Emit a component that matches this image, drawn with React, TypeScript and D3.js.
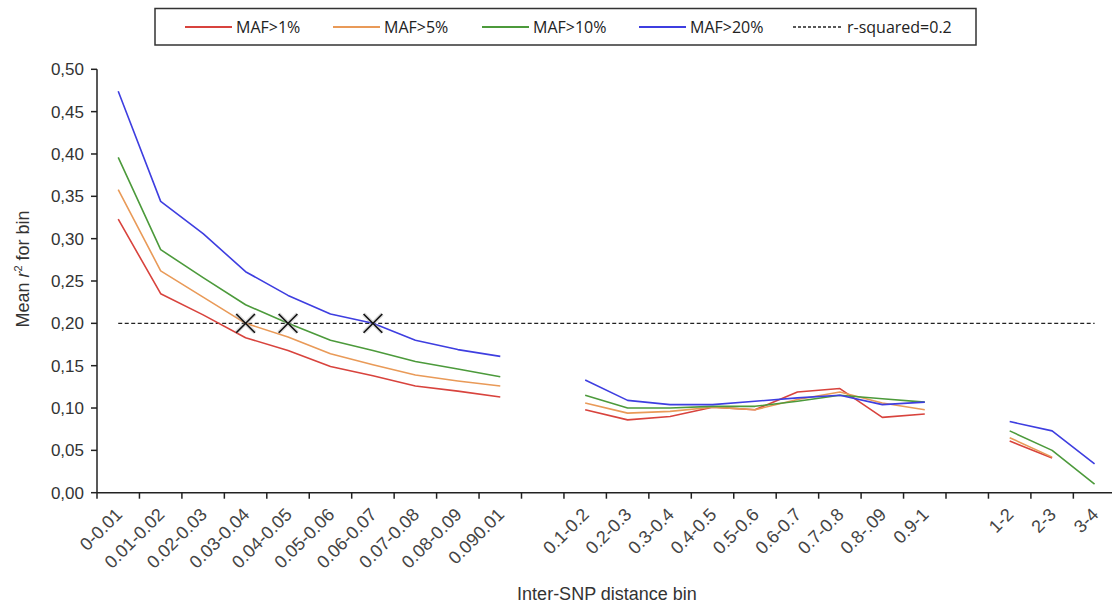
import React from "react";
import * as d3 from "d3";

// distance bins, in three groups with a blank slot between the groups
const binsShort = ["0-0.01", "0.01-0.02", "0.02-0.03", "0.03-0.04", "0.04-0.05", "0.05-0.06", "0.06-0.07", "0.07-0.08", "0.08-0.09", "0.090.01"];
const binsMid = ["0.1-0.2", "0.2-0.3", "0.3-0.4", "0.4-0.5", "0.5-0.6", "0.6-0.7", "0.7-0.8", "0.8-.09", "0.9-1"];
const binsLong = ["1-2", "2-3", "3-4"];

// mean r^2 per bin (short, mid, long)
const maf1 = [0.323, 0.235, 0.21, 0.183, 0.168, 0.149, 0.138, 0.126, 0.12, 0.113, 0.098, 0.086, 0.09, 0.101, 0.098, 0.119, 0.123, 0.089, 0.093, 0.061, 0.041, null];
const maf5 = [0.358, 0.262, 0.231, 0.2, 0.184, 0.164, 0.151, 0.139, 0.132, 0.126, 0.106, 0.094, 0.096, 0.101, 0.098, 0.11, 0.119, 0.106, 0.098, 0.065, 0.042, null];
const maf10 = [0.396, 0.287, 0.254, 0.222, 0.2, 0.18, 0.168, 0.155, 0.146, 0.137, 0.115, 0.1, 0.1, 0.102, 0.102, 0.108, 0.115, 0.111, 0.107, 0.073, 0.05, 0.01];
const maf20 = [0.474, 0.344, 0.306, 0.261, 0.233, 0.211, 0.2, 0.18, 0.169, 0.161, 0.133, 0.109, 0.104, 0.104, 0.108, 0.112, 0.115, 0.104, 0.107, 0.084, 0.073, 0.034];

const seriesNames = ["MAF>1%", "MAF>5%", "MAF>10%", "MAF>20%"];
const seriesColors = ["#d8433d", "#e99a58", "#4c9a3b", "#3e3ee0"];
const threshold = 0.2;
const thresholdName = "r-squared=0.2";
const crossBins = ["0.03-0.04", "0.04-0.05", "0.06-0.07"];
const yTicks = [0, 0.05, 0.1, 0.15, 0.2, 0.25, 0.3, 0.35, 0.4, 0.45, 0.5];

const GAP1 = "gap1";
const GAP2 = "gap2";
const allBins = [...binsShort, GAP1, ...binsMid, GAP2, ...binsLong];
const dataBins = [...binsShort, ...binsMid, ...binsLong];

export default function App() {
  const ref = React.useRef<SVGSVGElement>(null);

  React.useEffect(() => {
    const W = 1112, H = 606;
    const svg = d3.select(ref.current);
    svg.selectAll("*").remove();
    svg.attr("width", W).attr("height", H);

    const left = 97, top = 69.3, bottom = 492.7;
    const step = 42.45;
    const x = d3.scaleBand().domain(allBins).range([left, left + step * allBins.length]).padding(0);
    const y = d3.scaleLinear().domain([0, 0.5]).range([bottom, top]);
    const cx = (b: string) => (x(b) as number) + x.bandwidth() / 2;
    const font = "'Liberation Sans', Arial, sans-serif";

    // y axis
    svg.append("line").attr("x1", left).attr("x2", left).attr("y1", top).attr("y2", bottom)
      .attr("stroke", "#222").attr("stroke-width", 1.5);
    const yt = svg.append("g").selectAll("g").data(yTicks).join("g");
    yt.append("line").attr("x1", left - 6).attr("x2", left).attr("y1", d => y(d)).attr("y2", d => y(d))
      .attr("stroke", "#222").attr("stroke-width", 1.5);
    yt.append("text").attr("x", left - 13).attr("y", d => y(d)).attr("dy", "0.35em")
      .attr("text-anchor", "end").attr("font-family", font).attr("font-size", 17).attr("fill", "#333")
      .text(d => d3.format(".2f")(d).replace(".", ","));

    // y title
    const yTitle = svg.append("text").attr("transform", `translate(29,${(top + bottom) / 2 - 12}) rotate(-90)`)
      .attr("text-anchor", "middle").attr("font-family", font).attr("font-size", 18).attr("fill", "#333");
    yTitle.append("tspan").text("Mean ");
    yTitle.append("tspan").attr("font-style", "italic").text("r");
    yTitle.append("tspan").attr("font-size", 11).attr("dy", -7).text("2");
    yTitle.append("tspan").attr("dy", 7).text(" for bin");

    // x axis
    const xEnd = left + step * allBins.length;
    svg.append("line").attr("x1", left).attr("x2", xEnd).attr("y1", bottom).attr("y2", bottom)
      .attr("stroke", "#222").attr("stroke-width", 1.5);
    const bounds = [...allBins.map(b => x(b) as number), xEnd];
    svg.append("g").selectAll("line").data(bounds).join("line")
      .attr("x1", d => d).attr("x2", d => d).attr("y1", bottom).attr("y2", bottom + 6)
      .attr("stroke", "#222").attr("stroke-width", 1.5);
    svg.append("g").selectAll("text").data(dataBins).join("text")
      .attr("transform", d => `translate(${cx(d) + 5},${bottom + 23}) rotate(-45)`)
      .attr("text-anchor", "end").attr("font-family", font).attr("font-size", 18).attr("fill", "#444")
      .text(d => d);
    svg.append("text").attr("x", 607).attr("y", 600).attr("text-anchor", "middle")
      .attr("font-family", font).attr("font-size", 18).attr("fill", "#333").text("Inter-SNP distance bin");

    // threshold line
    svg.append("line").attr("x1", cx(dataBins[0])).attr("x2", cx(dataBins[dataBins.length - 1]))
      .attr("y1", y(threshold)).attr("y2", y(threshold))
      .attr("stroke", "#222").attr("stroke-width", 1.3).attr("stroke-dasharray", "4,2.5");

    // series
    const all = [maf1, maf5, maf10, maf20];
    const line = d3.line<{ b: string; v: number | null }>()
      .defined(d => d.v != null)
      .x(d => cx(d.b))
      .y(d => y(d.v as number));
    all.forEach((vals, i) => {
      const byBin = new Map(dataBins.map((b, j) => [b, vals[j]]));
      const pts = allBins.map(b => ({ b, v: byBin.has(b) ? (byBin.get(b) as number | null) : null }));
      svg.append("path").datum(pts).attr("d", line).attr("fill", "none")
        .attr("stroke", seriesColors[i]).attr("stroke-width", 1.6).attr("stroke-linejoin", "round");
    });

    // crossing markers
    const sym = d3.symbol(d3.symbolX, 230);
    const mk = svg.append("g").selectAll("g").data(crossBins).join("g")
      .attr("transform", d => `translate(${cx(d)},${y(threshold)})`);
    mk.append("path").attr("d", sym).attr("fill", "none").attr("stroke", "#999").attr("stroke-width", 4).attr("opacity", 0.35);
    mk.append("path").attr("d", sym).attr("fill", "none").attr("stroke", "#111").attr("stroke-width", 1.6);

    // legend
    const lg = svg.append("g");
    lg.append("rect").attr("x", 155).attr("y", 8.5).attr("width", 821).attr("height", 36.5)
      .attr("fill", "white").attr("stroke", "#333").attr("stroke-width", 1.5);
    const legendX = [185, 333, 482, 639, 793];
    const entries = [...seriesNames.map((n, i) => ({ n, c: seriesColors[i], dash: null as string | null })),
      { n: thresholdName, c: "#222", dash: "3,2" }];
    entries.forEach((e, i) => {
      const x0 = legendX[i];
      const len = e.dash ? 50 : 47;
      lg.append("line").attr("x1", x0).attr("x2", x0 + len).attr("y1", 27).attr("y2", 27)
        .attr("stroke", e.c).attr("stroke-width", e.dash ? 1.3 : 2).attr("stroke-dasharray", e.dash);
      lg.append("text").attr("x", x0 + len + 4).attr("y", 33).attr("font-family", "'Open Sans', sans-serif")
        .attr("font-size", 16).attr("fill", "#222").text(e.n);
    });
  }, []);

  return <svg ref={ref} style={{ position: "absolute", left: 0, top: 0 }} />;
}
